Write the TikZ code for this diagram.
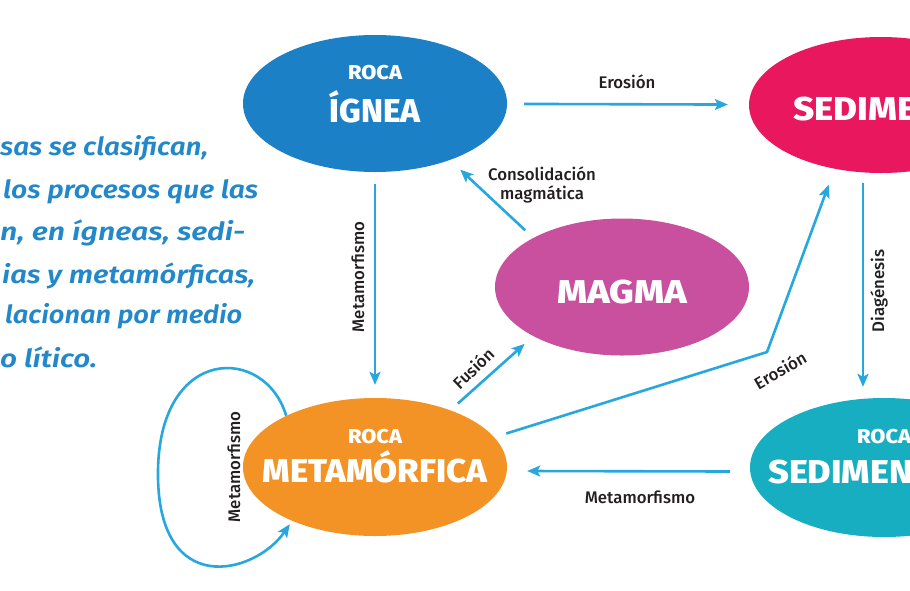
\documentclass[tikz,border=0pt]{standalone}
\usepackage{fontspec}
\setmainfont{Fira Sans}
\newfontfamily\bubble{Fira Sans ExtraBold}
\newfontfamily\labfont{Fira Sans Medium}
\newfontfamily\lftfont{Fira Sans SemiBold Italic}
\usetikzlibrary{shapes.geometric,arrows.meta,calc}
\definecolor{cIgn}{HTML}{1C80C6}
\definecolor{cSed}{HTML}{E9185E}
\definecolor{cMag}{HTML}{C9509E}
\definecolor{cMet}{HTML}{F39325}
\definecolor{cSdr}{HTML}{18AEC1}
\definecolor{cArr}{HTML}{27A7E0}
\definecolor{cLbl}{HTML}{231F20}
\definecolor{cTxt}{HTML}{2388C9}
\begin{document}
\begin{tikzpicture}[x=1pt,y=-1pt,
  ell/.style={ellipse, draw=none, inner sep=0pt},
  arr/.style={draw=cArr, line width=2.6pt, -{Stealth[length=13pt,width=11pt,inset=3pt]}},
  lbl/.style={text=cLbl, font=\labfont\fontsize{16.8}{19}\selectfont, inner sep=0pt},
  rocatxt/.style={text=white, font=\bubble\fontsize{20}{20}\selectfont, inner sep=0pt, anchor=base},
  bigtxt/.style={text=white, font=\bubble\fontsize{33}{33}\selectfont, inner sep=0pt, anchor=base},
  lft/.style={text=cTxt, font=\lftfont\fontsize{25}{30}\selectfont, inner sep=0pt, anchor=base west}]
\useasboundingbox (0,0) rectangle (910,590);
\clip (0,0) rectangle (910,590);
\fill[white] (0,0) rectangle (910,590);

% left text (cut off by the frame)
\node[lft] (t1) at (0,155) {\resizebox{208pt}{\height}{sas se clasifican,}};
\node[lft] (t2) at (3,198) {\resizebox{255pt}{\height}{los procesos que las}};
\node[lft] (t3) at (0,240) {\resizebox{245pt}{\height}{n, en ígneas, sedi-}};
\node[lft] (t4) at (2,283) {\resizebox{253pt}{\height}{ias y metamórficas,}};
\node[lft] (t5) at (5,323) {\resizebox{237pt}{\height}{lacionan por medio}};
\node[lft] (t6) at (0,367) {\resizebox{97pt}{\height}{o lítico.}};

% ellipses
\node[ell, fill=cIgn, minimum width=264pt, minimum height=137pt] (ign) at (375,103.5) {};
\node[ell, fill=cSed, minimum width=264pt, minimum height=136pt] (sed) at (881,105) {};
\node[ell, fill=cMag, minimum width=254pt, minimum height=137pt] (mag) at (622,287) {};
\node[ell, fill=cMet, minimum width=264pt, minimum height=138pt] (met) at (375,467) {};
\node[ell, fill=cSdr, minimum width=268pt, minimum height=139pt] (sdr) at (884,467.5) {};

\node[rocatxt] (ignA) at ($(ign)+(0,-24)$) {\resizebox{54pt}{\height}{ROCA}};
\node[bigtxt] (ignB) at ($(ign)+(0,18.5)$) {\resizebox{91pt}{\height}{ÍGNEA}};
\node[bigtxt, anchor=base west] (sedB) at ($(sed)+(-88,15)$) {\scalebox{1.11}[1]{SEDIMENTOS}};
\node[bigtxt] (magB) at ($(mag)+(0,16.5)$) {\resizebox{130pt}{\height}{MAGMA}};
\node[rocatxt] (metA) at ($(met)+(0,-24)$) {\resizebox{54pt}{\height}{ROCA}};
\node[bigtxt] (metB) at ($(met)+(0,15)$) {\resizebox{225pt}{\height}{METAMÓRFICA}};
\node[rocatxt, anchor=base west] (sdrA) at ($(sdr)+(-27,-24)$) {\resizebox{54pt}{\height}{ROCA}};
\node[bigtxt, anchor=base west] (sdrB) at ($(sdr)+(-116,16)$) {\scalebox{1.09}[1]{SEDIMENTARIA}};

% connectors
\draw[arr, shorten <=17pt, shorten >=21pt] (ign) -- (sed);
\draw[arr, shorten <=12pt, shorten >=13pt] (ign) -- (met);
\draw[arr] ([xshift=-18pt,yshift=-10pt]sed.south) -- ([xshift=-21pt,yshift=11pt]sdr.north);
\draw[arr] ([xshift=-20pt,yshift=-4pt]sdr.west) -- ([xshift=20pt,yshift=-4pt]met.east);
\draw[arr, shorten <=11pt, shorten >=14pt] (mag.151) -- (ign.-37);
\draw[arr, shorten <=10pt, shorten >=11.5pt] (met.37) -- (mag.209);
\coordinate (bend) at (767,352);
\draw[arr, shorten <=12.5pt, shorten >=17pt] (met.14) -- (bend) -- (sed.234);
\draw[arr, shorten >=4pt] (met.150) .. controls (265,345) and (160,345) .. (158,470)
   .. controls (156,600) and (255,575) .. (met.213);

% labels
\node[lbl] (l1) at (627,82) {Erosión};
\node[lbl, align=center] (l2) at (542,185) {Consolidación\\magmática};
\node[lbl, rotate=90] (l3) at (358,277) {Metamorfismo};
\node[lbl, rotate=44] (l4) at (473,368) {Fusión};
\node[lbl, rotate=30] (l5) at (780,370) {Erosión};
\node[lbl, rotate=90] (l6) at (879,291) {Diagénesis};
\node[lbl] (l7) at (640,497) {Metamorfismo};
\node[lbl, rotate=90] (l8) at (234,467) {Metamorfismo};
\end{tikzpicture}
\end{document}
